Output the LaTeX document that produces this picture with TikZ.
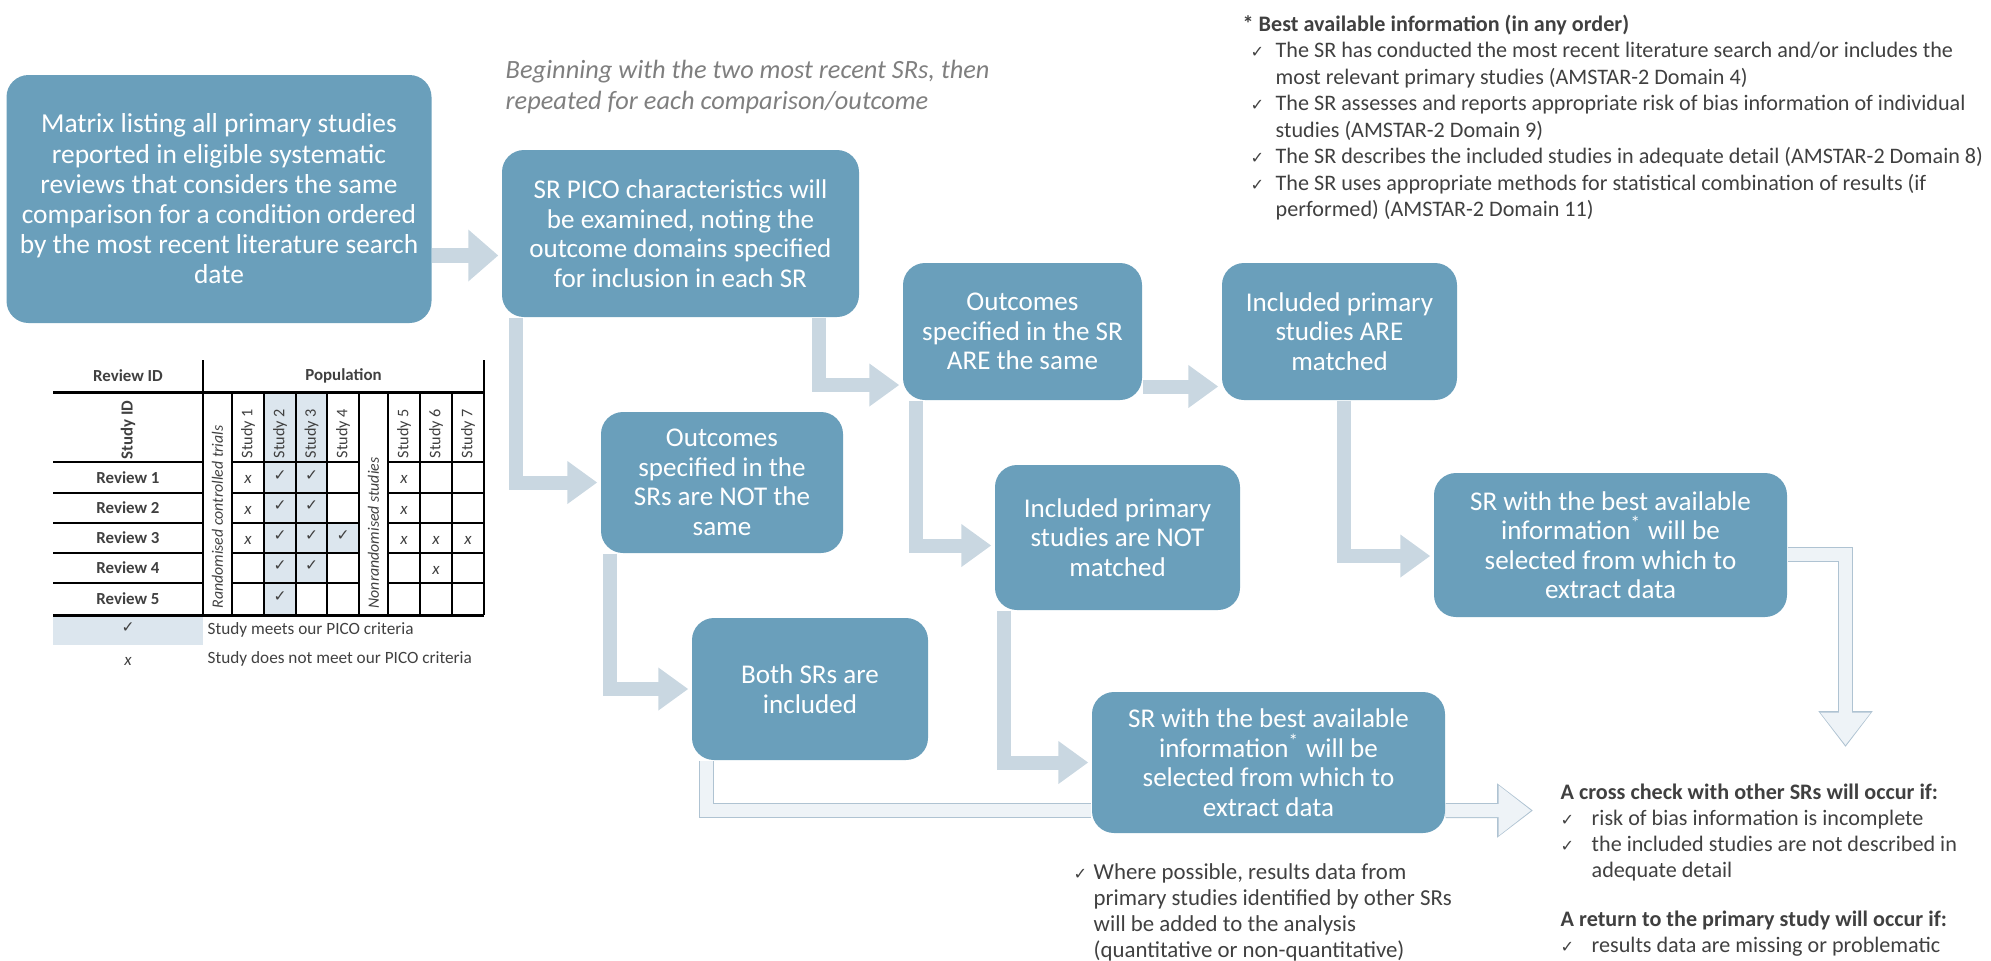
\documentclass[tikz,border=0pt]{standalone}
\usepackage{fontspec}
\usepackage{xcolor}
\setmainfont{Carlito}
\newfontfamily\symfont{DejaVu Sans}
\usepackage{tikz}
\usetikzlibrary{arrows.meta,positioning}

\definecolor{boxblue}{HTML}{6A9FBB}
\definecolor{flowgray}{HTML}{C9D7E1}
\definecolor{edgeblue}{HTML}{AFC3D2}
\definecolor{paleblue}{HTML}{EEF3F7}
\definecolor{cellblue}{HTML}{DCE6EE}
\definecolor{notegray}{HTML}{404040}
\definecolor{hintgray}{HTML}{7F7F7F}

\newcommand{\chk}[1]{\makebox[#1][l]{\symfont\fontsize{4.6}{5}\selectfont\char"2713}}

\begin{document}
\begin{tikzpicture}[
            stage/.style={fill=boxblue, rounded corners=2.2mm, text=white, align=center, inner sep=0pt, font=\fontsize{7.7}{8.4}\selectfont},
            flow/.style={draw=flowgray, line width=1.4mm, line join=miter, -{Triangle[length=3mm,width=4.1mm]}, shorten >=0.3mm},
            outflow/.style={draw=edgeblue, line width=1.5mm, line join=miter, -{Triangle[length=3.6mm,width=5.2mm]},
                postaction={draw=paleblue, line width=1.3mm, -{Triangle[length=3.25mm,width=4.8mm]}, shorten >=0.18mm}},
            tab/.style={text=notegray, inner sep=0pt, font=\fontsize{4.4}{5}\selectfont},
            side/.style={text=notegray, align=left, inner sep=0pt, anchor=west}]
        \useasboundingbox (0,0) rectangle (19.91,-9.60);

        % flow chart boxes
        \node[stage, minimum width=4.25cm, minimum height=2.48cm, font=\fontsize{7.8}{8.6}\selectfont] (listing) at (2.19,-1.99) {Matrix listing all primary studies\\reported in eligible systematic\\reviews that considers the same\\comparison for a condition ordered\\by the most recent literature search\\date};
        \node[stage, minimum width=3.57cm, minimum height=1.67cm] (pico) at (6.805,-2.335) {SR PICO characteristics will\\be examined, noting the\\outcome domains specified\\for inclusion in each SR};
        \node[stage, minimum width=2.42cm, minimum height=1.41cm] (notsame) at (7.22,-4.825) {Outcomes\\specified in the\\SRs are NOT the\\same};
        \node[stage, minimum width=2.39cm, minimum height=1.37cm] (same) at (10.225,-3.315) {Outcomes\\specified in the SR\\ARE the same};
        \node[stage, minimum width=2.35cm, minimum height=1.37cm] (match) at (13.395,-3.315) {Included primary\\studies ARE\\matched};
        \node[stage, minimum width=2.45cm, minimum height=1.45cm] (nomatch) at (11.175,-5.375) {Included primary\\studies are NOT\\matched};
        \node[stage, minimum width=2.36cm, minimum height=1.42cm] (both) at (8.10,-6.89) {Both SRs are\\included};
        \node[stage, minimum width=3.53cm, minimum height=1.44cm] (bestone) at (16.105,-5.45) {SR with the best available\\information\textsuperscript{*} will be\\selected from which to\\extract data};
        \node[stage, minimum width=3.53cm, minimum height=1.41cm] (besttwo) at (12.685,-7.625) {SR with the best available\\information\textsuperscript{*} will be\\selected from which to\\extract data};

        % connectors
        \path ([yshift=-5.65mm]listing.east) coordinate (l1);
        \draw[flow, line width=1.5mm, -{Triangle[length=3mm,width=5mm]}] (l1) -- (l1 -| pico.west);
        \draw[flow] ([xshift=1.5mm]pico.south west) |- (notsame.west);
        \draw[flow] ([xshift=-4.1mm]pico.south east) |- ([yshift=-5.35mm]same.west);
        \draw[flow] ([yshift=-5.5mm]same.east) -- ([yshift=-5.5mm]match.west);
        \draw[flow] ([xshift=1.4mm]same.south west) |- ([yshift=-0.8mm]nomatch.west);
        \draw[flow] ([xshift=1mm]notsame.south west) |- (both.west);
        \draw[flow] ([xshift=1mm]nomatch.south west) |- (besttwo.west);
        \draw[flow] ([xshift=0.45mm]match.south) |- ([yshift=-1.1mm]bestone.west);

        \draw[draw=edgeblue, double=paleblue, double distance=1.3mm, line width=0.1mm, line join=miter] ([xshift=1.5mm]both.south west) |- ([yshift=-4.8mm]besttwo.west);
        \coordinate (crossin) at (15.33,-8.105);
        \draw[outflow] ([yshift=-4.8mm]besttwo.east) -- (crossin);
        \coordinate (downend) at (18.455,-7.47);
        \draw[outflow] ([yshift=-0.95mm]bestone.east) -| (downend);

        % notes
        \node[side, text=hintgray, font=\fontsize{7.5}{8.6}\selectfont\itshape] (hint) at (5.05,-0.87) {Beginning with the two most recent SRs, then\\repeated for each comparison/outcome};
        \node[side, font=\fontsize{6.3}{7.55}\selectfont] (bestinfo) at (12.42,-1.175) {\textbf{* Best available information (in any order)}\\
            \hspace*{0.8mm}\chk{2.5mm}The SR has conducted the most recent literature search and/or includes the\\
            \hspace*{3.3mm}most relevant primary studies (AMSTAR-2 Domain 4)\\
            \hspace*{0.8mm}\chk{2.5mm}The SR assesses and reports appropriate risk of bias information of individual\\
            \hspace*{3.3mm}studies (AMSTAR-2 Domain 9)\\
            \hspace*{0.8mm}\chk{2.5mm}The SR describes the included studies in adequate detail (AMSTAR-2 Domain 8)\\
            \hspace*{0.8mm}\chk{2.5mm}The SR uses appropriate methods for statistical combination of results (if\\
            \hspace*{3.3mm}performed) (AMSTAR-2 Domain 11)};
        \node[side, font=\fontsize{6.5}{7.4}\selectfont] (addnote) at (10.73,-9.12) {\chk{2mm}Where possible, results data from\\
            \hspace*{2mm}primary studies identified\ by other SRs\\
            \hspace*{2mm}will be added to the analysis\\
            \hspace*{2mm}(quantitative or non-quantitative)};
        \node[side, font=\fontsize{6.3}{7.4}\selectfont] (crossnote) at (15.60,-8.325) {\textbf{A cross check with other SRs will occur if:}\\
            \chk{3.1mm}risk of bias information is incomplete\\
            \chk{3.1mm}the included studies are not described in\\
            \hspace*{3.1mm}adequate detail};
        \node[side, font=\fontsize{6.3}{7.4}\selectfont] (returnnote) at (15.60,-9.335) {\textbf{A return to the primary study will occur if:}\\
            \chk{3.1mm}results data are missing or problematic};

        % matrix table
        \fill[cellblue] (2.64,-3.92) rectangle (2.96,-6.15);
        \fill[cellblue] (2.96,-3.92) rectangle (3.27,-5.83);
        \fill[cellblue] (3.27,-5.23) rectangle (3.59,-5.53);
        \fill[cellblue] (0.53,-6.15) rectangle (2.03,-6.45);
        \draw[line width=0.85pt] (2.03,-3.60) -- (2.03,-6.15);
        \draw[line width=0.85pt] (0.53,-3.92) -- (4.84,-3.92);
        \draw[line width=0.85pt] (0.53,-6.15) -- (4.84,-6.15);
        \draw[line width=0.4pt] (4.84,-3.60) -- (4.84,-6.15);
        \foreach \x in {2.32,2.64,2.96,3.27,3.59,3.88,4.20,4.52}
            \draw[line width=0.4pt] (\x,-3.92) -- (\x,-6.15);
        \foreach \y in {4.62,4.93,5.23,5.53,5.83} {
            \draw[line width=0.4pt] (0.53,-\y) -- (2.03,-\y);
            \draw[line width=0.4pt] (2.32,-\y) -- (3.59,-\y);
            \draw[line width=0.4pt] (3.88,-\y) -- (4.84,-\y);
        }

        \node[tab, font=\fontsize{4.8}{5}\selectfont\bfseries] (revid) at (1.28,-3.76) {Review ID};
        \node[tab, font=\fontsize{4.8}{5}\selectfont\bfseries] (popn) at (3.435,-3.76) {Population};
        \node[tab, font=\fontsize{4.8}{5}\selectfont\bfseries, rotate=90] (studyid) at (1.28,-4.30) {Study ID};
        \node[tab, font=\fontsize{4.5}{5}\selectfont\itshape, rotate=90] (rct) at (2.175,-5.17) {Randomised controlled trials};
        \node[tab, font=\fontsize{4.5}{5}\selectfont\itshape, rotate=90] (nrs) at (3.735,-5.33) {Nonrandomised studies};
        \foreach \x/\n in {2.48/1,2.80/2,3.115/3,3.43/4,4.04/5,4.36/6,4.68/7}
            \node[tab, font=\fontsize{4.6}{5}\selectfont, rotate=90, anchor=west] (st\n) at (\x,-4.59) {Study \n};
        \foreach \y/\n in {4.775/1,5.08/2,5.38/3,5.68/4,5.99/5}
            \node[tab, font=\fontsize{4.8}{5}\selectfont\bfseries] (rev\n) at (1.28,-\y) {Review \n};
        \foreach \x/\y [count=\i] in {2.80/4.775,2.80/5.08,2.80/5.38,2.80/5.68,2.80/5.99,3.115/4.775,3.115/5.08,3.115/5.38,3.115/5.68,3.43/5.38}
            \node[tab] (yes\i) at (\x,-\y+0.02) {{\symfont\char"2713}};
        \foreach \x/\y [count=\i] in {2.48/4.775,2.48/5.08,2.48/5.38,4.04/4.775,4.04/5.08,4.04/5.38,4.36/5.38,4.36/5.68,4.68/5.38}
            \node[tab, font=\fontsize{4.8}{5}\selectfont] (no\i) at (\x,-\y-0.02) {\textit{x}};
        \node[tab] (legyes) at (1.28,-6.28) {{\symfont\char"2713}};
        \node[tab, font=\fontsize{4.8}{5}\selectfont] (legno) at (1.28,-6.61) {\textit{x}};
        \node[tab, font=\fontsize{4.9}{5}\selectfont, anchor=west] (legyestxt) at (2.07,-6.30) {Study meets our PICO criteria};
        \node[tab, font=\fontsize{4.9}{5}\selectfont, anchor=west] (legnotxt) at (2.07,-6.59) {Study does not meet our PICO criteria};
    \end{tikzpicture}
\end{document}
